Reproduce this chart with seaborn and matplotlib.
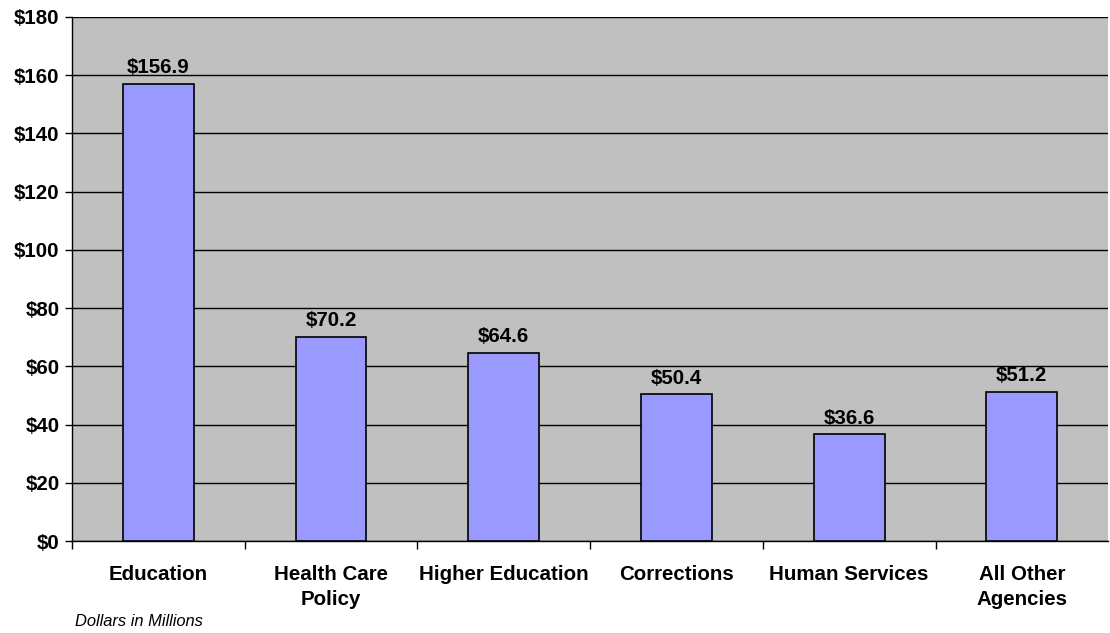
import matplotlib
matplotlib.use("Agg")
import matplotlib.pyplot as plt
import seaborn as sns
import pandas as pd

# Chart data
agencies = ["Education", "Health Care\nPolicy", "Higher Education", "Corrections",
            "Human Services", "All Other\nAgencies"]
amounts = [156.9, 70.2, 64.6, 50.4, 36.6, 51.2]
y_ticks = [0, 20, 40, 60, 80, 100, 120, 140, 160, 180]

df = pd.DataFrame({"agency": agencies, "amount": amounts})

sns.set_theme(style="white")
plt.rcParams["font.family"] = ["Liberation Sans", "DejaVu Sans"]
plt.rcParams["text.color"] = "black"
plt.rcParams["xtick.color"] = "black"
plt.rcParams["ytick.color"] = "black"

fig = plt.figure(figsize=(11.1, 6.33), dpi=100)
ax = fig.add_axes([0.0649, 0.1453, 0.9335, 0.828])
ax.set_facecolor("#C0C0C0")

sns.barplot(data=df, x="agency", y="amount", color="#9999FF", saturation=1,
            width=0.41, edgecolor="black", linewidth=1.2, ax=ax, zorder=3)

# Value labels on top of bars
for i, v in enumerate(amounts):
    ax.text(i, v + 2.3, f"${v:.1f}", ha="center", va="bottom",
            fontsize=14.8, fontweight="bold", color="black")

ax.set_ylim(0, 180)
ax.set_xlim(-0.5, len(agencies) - 0.5)
ax.set_yticks(y_ticks)
ax.set_yticklabels([f"${t}" for t in y_ticks], fontsize=14.8, fontweight="bold")
ax.yaxis.grid(True, color="black", linewidth=1)
ax.set_axisbelow(True)
ax.tick_params(axis="y", length=5, width=1, color="black", left=True, pad=4)

# Category labels with ticks at category boundaries
ax.set_xticks(range(len(agencies)))
ax.set_xticklabels(agencies, fontsize=14.8, fontweight="bold", linespacing=1.42)
ax.tick_params(axis="x", length=0, pad=17)
ax.set_xticks([i + 0.5 for i in range(len(agencies) - 1)] + [-0.5], minor=True)
ax.tick_params(axis="x", which="minor", length=6, width=1, color="black", bottom=True)

ax.set_xlabel("")
ax.set_ylabel("")
for side in ["top", "right"]:
    ax.spines[side].set_visible(False)
for side in ["left", "bottom"]:
    ax.spines[side].set_color("black")
    ax.spines[side].set_linewidth(1)

fig.text(0.0676, 0.006, "Dollars in Millions", fontsize=11.9,
         fontstyle="italic", ha="left", va="bottom", color="black")

fig.savefig("out.png", dpi=100, facecolor="white")
